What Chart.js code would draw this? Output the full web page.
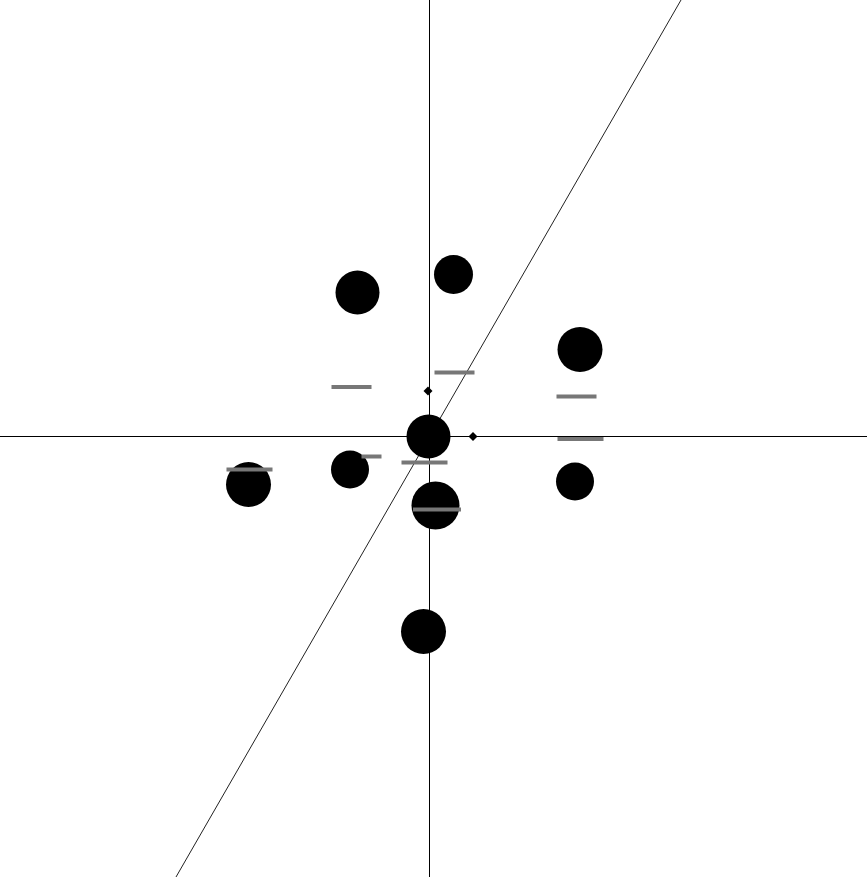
<!DOCTYPE html>
<html>
<head>
<meta charset="utf-8">
<script src="https://cdn.jsdelivr.net/npm/chart.js@4/dist/chart.umd.min.js"></script>
<style>
html,body{margin:0;padding:0;background:#fff;overflow:hidden;}
#wrap{width:867px;height:877px;}
</style>
</head>
<body>
<div id="wrap"><canvas id="c" width="867" height="877"></canvas></div>
<script>
// Bubble points: x, y and size (r)
const bubbleX = [-0.72, 0.24, 1.505, -0.01, -0.795, 0.06, -1.81, 1.455, -0.06];
const bubbleY = [1.44, 1.62, 0.87, 0.00, -0.33, -0.69, -0.48, -0.45, -1.95];
const bubbleR = [22, 19.5, 22.5, 22, 19, 24, 22.5, 19, 22.5];

// Gray dash markers
const dashX = [-0.78, 0.25, 1.47, 1.51, -0.58, -0.05, 0.075, -1.80];
const dashY = [0.495, 0.64, 0.40, -0.025, -0.20, -0.26, -0.73, -0.33];

// Small diamond markers
const diamondX = [-0.015, 0.435];
const diamondY = [0.455, 0.00];

// Reference line through the origin (endpoints)
const refLineX = [-2.535, 2.515];
const refLineY = [-4.405, 4.365];

// Axis extents
const xRange = [-4.295, 4.375];
const yRange = [-4.405, 4.365];

const dashHalfWidths = [20, 20, 20, 23, 10, 23, 24, 23];

const zip = (xs, ys) => xs.map((x, i) => ({x: x, y: ys[i]}));

const chart = new Chart(document.getElementById('c'), {
  type: 'bubble',
  data: {
    datasets: [
      {
        type: 'scatter',
        data: zip(diamondX, diamondY),
        pointStyle: 'rectRot',
        pointRadius: 4.5,
        backgroundColor: '#000',
        borderColor: '#000',
        borderWidth: 0,
        order: 0
      },
      {
        type: 'scatter',
        data: zip(dashX, dashY),
        pointStyle: 'line',
        pointRadius: dashHalfWidths,
        borderColor: '#777777',
        backgroundColor: '#777777',
        borderWidth: 4,
        order: 1
      },
      {
        type: 'bubble',
        data: bubbleX.map((x, i) => ({x: x, y: bubbleY[i], r: bubbleR[i]})),
        backgroundColor: '#000',
        borderColor: '#000',
        borderWidth: 0,
        order: 2
      },
      {
        type: 'scatter',
        data: zip(refLineX, refLineY),
        showLine: true,
        pointRadius: 0,
        borderColor: '#222',
        borderWidth: 1,
        order: 3
      },
      {
        type: 'scatter',
        data: [{x: xRange[0], y: 0}, {x: xRange[1], y: 0}],
        showLine: true,
        pointRadius: 0,
        borderColor: '#000',
        borderWidth: 1,
        order: 4
      },
      {
        type: 'scatter',
        data: [{x: 0, y: yRange[0]}, {x: 0, y: yRange[1]}],
        showLine: true,
        pointRadius: 0,
        borderColor: '#000',
        borderWidth: 1,
        order: 4
      }
    ]
  },
  options: {
    responsive: false,
    animation: false,
    layout: {padding: 0, autoPadding: false},
    plugins: {legend: {display: false}, tooltip: {enabled: false}},
    scales: {
      x: {type: 'linear', min: xRange[0], max: xRange[1], display: false},
      y: {type: 'linear', min: yRange[0], max: yRange[1], display: false}
    }
  }
});
</script>
</body>
</html>
